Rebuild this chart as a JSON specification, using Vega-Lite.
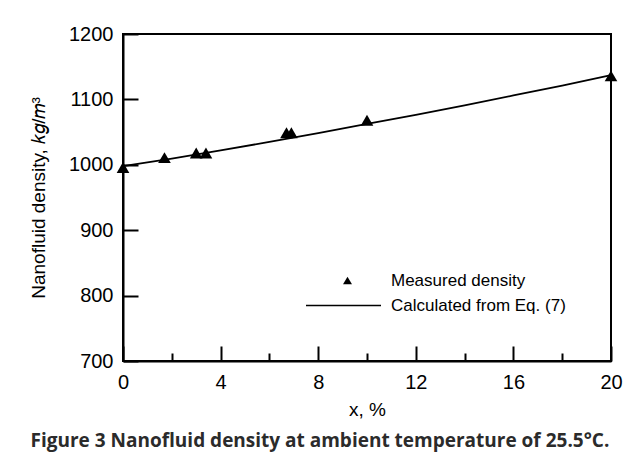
{
  "$schema": "https://vega.github.io/schema/vega-lite/v6.json",
  "width": 488,
  "height": 327,
  "autosize": {"type": "none"},
  "padding": {"left": 123, "top": 34, "right": 14, "bottom": 96},
  "background": "white",
  "config": {
    "view": {"stroke": "black", "strokeWidth": 2},
    "font": "Liberation Sans",
    "axis": {
      "domainColor": "black", "domainWidth": 2,
      "tickColor": "black", "tickWidth": 2,
      "labelColor": "black", "titleColor": "black",
      "labelFont": "Liberation Sans", "titleFont": "Liberation Sans",
      "labelFontSize": 20, "titleFontSize": 19, "titleFontWeight": "normal",
      "grid": false, "labelFlush": false, "labelOverlap": false
    },
    "legend": {"labelFont": "Liberation Sans", "labelFontSize": 17, "labelColor": "black", "padding": 0, "labelLimit": 400}
  },
  "title": {
    "text": "Figure 3 Nanofluid density at ambient temperature of 25.5°C.",
    "orient": "bottom", "anchor": "start", "frame": "bounds",
    "font": "Open Sans", "fontSize": 19, "fontWeight": "bold", "color": "#2b2b2b",
    "offset": 13, "dx": 1
  },
  "datasets": {
    "measured": [
      {"x": 0, "density": 996},
      {"x": 1.7, "density": 1011},
      {"x": 3.0, "density": 1018},
      {"x": 3.4, "density": 1018},
      {"x": 6.7, "density": 1049},
      {"x": 6.9, "density": 1049},
      {"x": 10, "density": 1068},
      {"x": 20, "density": 1136}
    ],
    "calculated": [
      {"x": 0, "density": 998},
      {"x": 2, "density": 1009.5},
      {"x": 4, "density": 1022},
      {"x": 6, "density": 1035},
      {"x": 8, "density": 1048.5},
      {"x": 10, "density": 1062.5},
      {"x": 12, "density": 1076.5},
      {"x": 14, "density": 1091},
      {"x": 16, "density": 1106},
      {"x": 18, "density": 1121},
      {"x": 20, "density": 1137}
    ]
  },
  "layer": [
    {
      "data": {"name": "calculated"},
      "mark": {"type": "line", "strokeWidth": 1.8},
      "encoding": {
        "x": {
          "field": "x", "type": "quantitative",
          "scale": {"domain": [0, 20], "nice": false, "zero": false},
          "axis": {
            "title": "x, %",
            "values": [0, 2, 4, 6, 8, 10, 12, 14, 16, 18, 20],
            "labelExpr": "datum.value % 4 === 0 ? datum.label : ''",
            "tickSize": {"condition": {"test": "datum.value % 4 === 0", "value": -15}, "value": -8},
            "labelPadding": 26,
            "titlePadding": 1
          }
        },
        "y": {
          "field": "density", "type": "quantitative",
          "scale": {"domain": [700, 1200], "nice": false, "zero": false},
          "axis": {
            "title": "Nanofluid density, 𝑘𝑔/𝑚³",
            "values": [700, 750, 800, 850, 900, 950, 1000, 1050, 1100, 1150, 1200],
            "labelExpr": "datum.value % 100 === 0 ? datum.label : ''",
            "tickSize": {"condition": {"test": "datum.value % 100 === 0", "value": -15}, "value": -8},
            "labelPadding": 25,
            "titlePadding": 20,
            "format": "d"
          }
        },
        "color": {
          "datum": "Calculated from Eq. (7)",
          "scale": {"range": ["black"]},
          "legend": {
            "title": null, "orient": "none", "legendX": 182, "legendY": 233,
            "symbolType": "stroke", "symbolSize": 5625, "symbolStrokeWidth": 1.5,
            "labelOffset": 9
          }
        }
      }
    },
    {
      "data": {"name": "measured"},
      "mark": {"type": "point", "shape": "triangle-up", "filled": true, "size": 160, "opacity": 1, "color": "black"},
      "encoding": {
        "x": {"field": "x", "type": "quantitative"},
        "y": {"field": "density", "type": "quantitative"},
        "shape": {
          "datum": "Measured density",
          "scale": {"range": ["triangle-up"]},
          "legend": {
            "title": null, "orient": "none", "legendX": 216, "legendY": 238,
            "symbolSize": 80, "symbolFillColor": "black", "symbolStrokeColor": "black",
            "labelOffset": 35
          }
        }
      }
    }
  ]
}
